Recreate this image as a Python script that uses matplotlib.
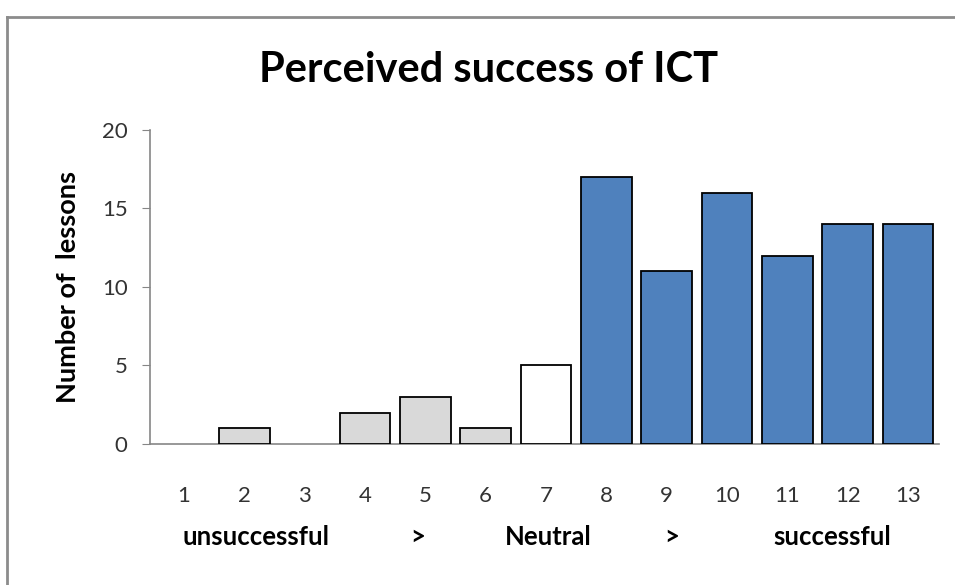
import matplotlib
matplotlib.use("Agg")
import matplotlib.pyplot as plt
from matplotlib.lines import Line2D
from matplotlib.transforms import blended_transform_factory

# ── Data ──────────────────────────────────────────────────────────────
scores = list(range(1, 14))
lessons = [0, 1, 0, 2, 3, 1, 5, 17, 11, 16, 12, 14, 14]
groups = ["neg"] * 6 + ["neutral"] + ["pos"] * 6

scale_words = ["unsuccessful", ">", "Neutral", ">", "successful"]
scale_pos = [2.19, 4.87, 7.03, 9.08, 11.74]

COLORS = {"neg": "#D9D9D9", "neutral": "#FFFFFF", "pos": "#4F81BD"}
AXIS_GRAY = "#868686"

plt.rcParams["font.family"] = ["Lato", "DejaVu Sans"]

fig = plt.figure(figsize=(9.55, 5.85), dpi=100)
ax = fig.add_axes([0.157, 0.241, 0.826, 0.537])

# zero-height bars get no outline, as in the original
ax.bar(scores, lessons, width=0.84,
       color=[COLORS[g] for g in groups],
       edgecolor="black",
       linewidth=[1.3 if v > 0 else 0 for v in lessons], zorder=3)

ax.set_xlim(0.437, 13.51)
ax.set_ylim(0, 20)
ax.set_yticks([0, 5, 10, 15, 20])
ax.set_xticks(scores)
ax.set_xticklabels([str(s) for s in scores])

for side in ("top", "right"):
    ax.spines[side].set_visible(False)
for side in ("left", "bottom"):
    ax.spines[side].set_color(AXIS_GRAY)
    ax.spines[side].set_linewidth(1.2)

ax.tick_params(axis="y", direction="out", length=6, color=AXIS_GRAY,
               labelsize=16, labelcolor="#333333", pad=10)
ax.tick_params(axis="x", length=0, labelsize=16, labelcolor="#333333", pad=30)

ax.set_ylabel("Number of  lessons", fontsize=19.5, fontweight="bold")
ax.yaxis.set_label_coords(68 / 955, 0.5, transform=fig.transFigure)
ax.yaxis.label.set_va("center")
ax.yaxis.label.set_position((68 / 955, 1 - 287 / 585))

fig.text(489 / 955, 1 - 70 / 585, "Perceived success of ICT", fontsize=30,
         fontweight="bold", ha="center", va="center")

trans = blended_transform_factory(ax.transData, fig.transFigure)
for word, x in zip(scale_words, scale_pos):
    ax.text(x, 1 - 537 / 585, word, transform=trans, ha="center", va="center",
            fontsize=18.5, fontweight="bold")

# chart frame (only the top and left edges show in the crop)
fig.add_artist(Line2D([7 / 955, 1.0], [1 - 17 / 585, 1 - 17 / 585],
                      transform=fig.transFigure, color="#8C8C8C", linewidth=2))
fig.add_artist(Line2D([7 / 955, 7 / 955], [0, 1 - 17 / 585],
                      transform=fig.transFigure, color="#8C8C8C", linewidth=2))

fig.savefig("out.png", dpi=100)
